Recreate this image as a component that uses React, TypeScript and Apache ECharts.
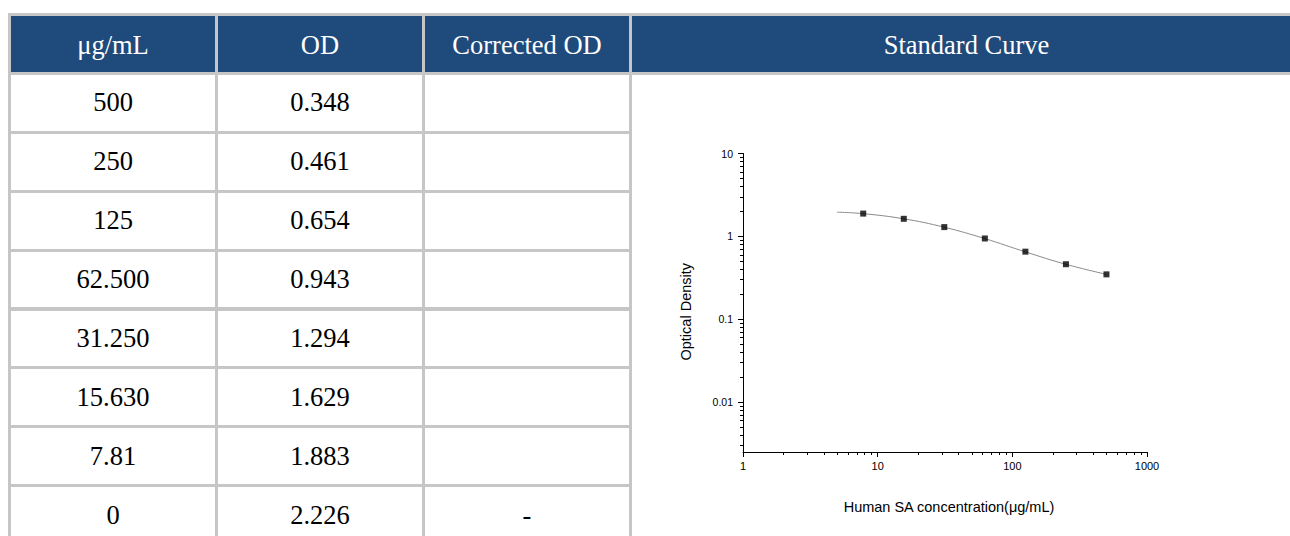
import React, { useEffect, useRef } from "react";
import * as echarts from "echarts";

// ---------- data ----------
const headers = ["μg/mL", "OD", "Corrected OD", "Standard Curve"];
const concLabels = ["500", "250", "125", "62.500", "31.250", "15.630", "7.81", "0"];
const concValues = [500, 250, 125, 62.5, 31.25, 15.63, 7.81, 0];
const odValues = [0.348, 0.461, 0.654, 0.943, 1.294, 1.629, 1.883, 2.226];
const correctedLabels = ["", "", "", "", "", "", "", "-"];

// fitted curve
const curveX = [5, 7.81, 15.63, 31.25, 62.5, 125, 250, 500];
const curveY = [1.96, 1.88, 1.63, 1.29, 0.94, 0.65, 0.46, 0.348];

const xMajorTicks = [1, 10, 100, 1000];
const xTickLabels = ["1", "10", "100", "1000"];
const xMinorTicks = [2, 3, 4, 5, 6, 7, 8, 9, 20, 30, 40, 50, 60, 70, 80, 90, 200, 300, 400, 500, 600, 700, 800, 900];
const yMajorTicks = [0.01, 0.1, 1, 10];
const yTickLabels = ["0.01", "0.1", "1", "10"];
const yMinorTicks = [0.003, 0.004, 0.005, 0.006, 0.007, 0.008, 0.009, 0.02, 0.03, 0.04, 0.05, 0.06, 0.07, 0.08, 0.09, 0.2, 0.3, 0.4, 0.5, 0.6, 0.7, 0.8, 0.9, 2, 3, 4, 5, 6, 7, 8, 9];

const xName = "Human SA concentration(μg/mL)";
const yName = "Optical Density";

// ---------- layout ----------
const VB = [8, 215, 422, 629, 1301]; // vertical border left edges
const BW = 3; // border width
const ROW0 = 13;
const PITCH = 58.9;
const HEADER_BG = "#1f4a7c";
const BORDER = "#c6c6c6";
const serif = "'Liberation Serif', 'Times New Roman', serif";
const sans = "'Liberation Sans', Arial, Helvetica, sans-serif";

function lookup(v: number, ticks: number[], labels: string[]) {
  for (let i = 0; i < ticks.length; i++) {
    if (Math.abs(Math.log10(v) - Math.log10(ticks[i])) < 1e-6) return labels[i];
  }
  return "";
}

function Chart() {
  const ref = useRef<HTMLDivElement>(null);
  useEffect(() => {
    if (!ref.current) return;
    const chart = echarts.init(ref.current, undefined, { renderer: "svg" });
    const points = concValues
      .map((c, i) => [c, odValues[i]])
      .filter((p) => p[0] > 0);
    const option: any = {
      animation: false,
      grid: { left: 111, top: 78.5, width: 404, height: 298.5, containLabel: false, outerBoundsMode: "none" },
      xAxis: [
        {
          type: "log",
          logBase: 10,
          min: 1,
          max: 1000,
          position: "bottom",
          name: xName,
          nameLocation: "middle",
          nameGap: 47,
          nameTextStyle: { fontFamily: sans, fontSize: 14.5, color: "#000", padding: [0, 0, 0, 8] },
          axisLine: { show: true, onZero: false, lineStyle: { color: "#000", width: 1 } },
          axisTick: { show: true, inside: false, length: 5, customValues: xMajorTicks, lineStyle: { color: "#000", width: 1 } },
          axisLabel: {
            customValues: xMajorTicks,
            formatter: (v: number) => lookup(v, xMajorTicks, xTickLabels),
            margin: 8,
            fontSize: 11,
            color: "#000",
            fontFamily: sans,
          },
          splitLine: { show: false },
        },
        {
          type: "log",
          logBase: 10,
          min: 1,
          max: 1000,
          position: "bottom",
          axisLine: { show: false, onZero: false },
          axisLabel: { show: false },
          axisTick: { show: true, inside: false, length: 3, customValues: xMinorTicks, lineStyle: { color: "#000", width: 1 } },
          splitLine: { show: false },
        },
      ],
      yAxis: [
        {
          type: "log",
          logBase: 10,
          min: 0.0025,
          max: 10,
          position: "left",
          name: yName,
          nameLocation: "middle",
          nameGap: 50,
          nameRotate: 90,
          nameTextStyle: { fontFamily: sans, fontSize: 14.5, color: "#000", padding: [0, 18, 0, 0] },
          axisLine: { show: true, onZero: false, lineStyle: { color: "#000", width: 1 } },
          axisTick: { show: true, inside: false, length: 5, customValues: yMajorTicks, lineStyle: { color: "#000", width: 1 } },
          axisLabel: {
            customValues: yMajorTicks,
            formatter: (v: number) => lookup(v, yMajorTicks, yTickLabels),
            margin: 10,
            fontSize: 10.5,
            color: "#000",
            fontFamily: sans,
          },
          splitLine: { show: false },
        },
        {
          type: "log",
          logBase: 10,
          min: 0.0025,
          max: 10,
          position: "left",
          axisLine: { show: false, onZero: false },
          axisLabel: { show: false },
          axisTick: { show: true, inside: false, length: 3, customValues: yMinorTicks, lineStyle: { color: "#000", width: 1 } },
          splitLine: { show: false },
        },
      ],
      series: [
        {
          type: "line",
          xAxisIndex: 0,
          yAxisIndex: 0,
          data: curveX.map((x, i) => [x, curveY[i]]),
          smooth: 0.4,
          symbol: "none",
          showSymbol: false,
          lineStyle: { color: "#8a8a8a", width: 1 },
          z: 2,
          silent: true,
        },
        {
          type: "scatter",
          xAxisIndex: 0,
          yAxisIndex: 0,
          data: points,
          symbol: "rect",
          symbolSize: 6,
          itemStyle: { color: "#000" },
          z: 3,
        },
      ],
    };
    chart.setOption(option);
    return () => chart.dispose();
  }, []);
  return (
    <div
      ref={ref}
      style={{ position: "absolute", left: 632, top: 75, width: 658, height: 461 }}
    />
  );
}

export default function App() {
  const cells: React.ReactNode[] = [];
  const rowTop = (k: number) => ROW0 + PITCH * k;
  // header
  for (let c = 0; c < 4; c++) {
    const left = VB[c] + BW;
    const width = VB[c + 1] - left;
    const top = rowTop(0) + BW;
    const height = rowTop(1) - top;
    cells.push(
      <div
        key={"h" + c}
        style={{
          position: "absolute",
          left,
          top,
          width,
          height,
          boxSizing: "border-box",
          paddingTop: 3,
          background: HEADER_BG,
          color: "#fff",
          display: "flex",
          alignItems: "center",
          justifyContent: "center",
          fontFamily: serif,
          fontSize: 26.5,
          whiteSpace: "nowrap",
        }}
      >
        {headers[c]}
      </div>
    );
  }
  // body
  const cols = [concLabels, odValues.map((v) => v.toFixed(3)), correctedLabels];
  for (let r = 0; r < concLabels.length; r++) {
    for (let c = 0; c < 3; c++) {
      const left = VB[c] + BW;
      const width = VB[c + 1] - left;
      const top = rowTop(r + 1) + BW;
      const height = rowTop(r + 2) - top;
      cells.push(
        <div
          key={"b" + r + "_" + c}
          style={{
            position: "absolute",
            left,
            top,
            width,
            height,
            background: "#fff",
            color: "#000",
            display: "flex",
            alignItems: "center",
            justifyContent: "center",
            fontFamily: serif,
            fontSize: 26.5,
            whiteSpace: "nowrap",
          }}
        >
          {cols[c][r]}
        </div>
      );
    }
  }
  // standard curve cell
  cells.push(
    <div
      key="curve"
      style={{
        position: "absolute",
        left: VB[3] + BW,
        top: rowTop(1) + BW,
        width: VB[4] - VB[3] - BW,
        height: 600,
        background: "#fff",
      }}
    />
  );

  return (
    <div
      style={{
        position: "fixed",
        left: 0,
        top: 0,
        width: 1290,
        height: 536,
        overflow: "hidden",
        background: "#fff",
      }}
    >
      <div
        style={{
          position: "absolute",
          left: VB[0],
          top: ROW0,
          width: VB[4] - VB[0] + BW,
          height: 600,
          background: BORDER,
        }}
      />
      {cells}
      <Chart />
    </div>
  );
}
